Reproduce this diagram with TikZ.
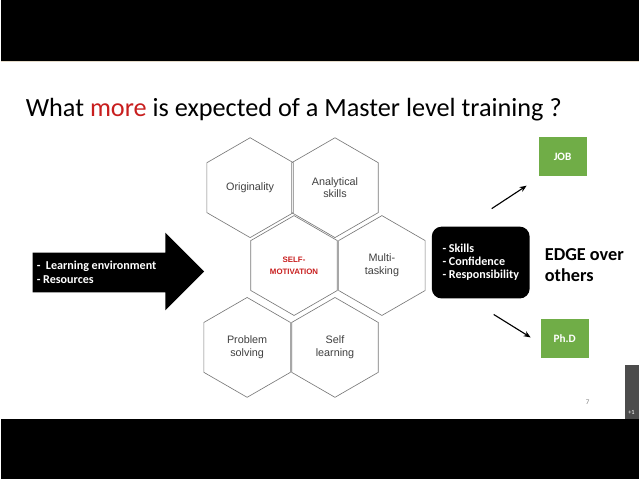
\documentclass[tikz,border=0pt]{standalone}
\usepackage{fontspec}
\setmainfont{Carlito}
\newfontfamily\arialfont{Liberation Sans}
\usetikzlibrary{shapes.geometric,arrows.meta}
\definecolor{boxgreen}{RGB}{112,173,71}
\definecolor{slideline}{RGB}{228,218,200}
\definecolor{hexline}{RGB}{120,120,120}
\definecolor{titlered}{RGB}{200,30,30}

\begin{document}
\begin{tikzpicture}[x=0.025cm,y=-0.025cm,
    hexcell/.style={regular polygon, regular polygon sides=6, shape border rotate=30,
        draw=hexline, line width=0.45pt, minimum size=2.5cm, inner sep=0pt, align=center,
        text=black!75, font=\arialfont\fontsize{7.7}{9.2}\selectfont},
    greenbox/.style={fill=boxgreen, minimum width=1.2cm, minimum height=0.97cm, inner sep=0pt,
        text=white, font=\bfseries\fontsize{8}{9}\selectfont},
    outarrow/.style={-{Stealth[length=5pt,width=4pt]}, line width=0.8pt}]
    % 背景
    \fill[black] (0,0) rectangle (640,480);
    \fill[white] (0,61) rectangle (640,420);
    \draw[slideline, line width=0.8pt] (0,61.5) -- (640,61.5);
    \useasboundingbox (0,0) rectangle (640,480);
    % 标题
    \node[anchor=base west, inner sep=0pt, font=\fontsize{18.7}{22}\selectfont] (title) at (25,117)
        {What \textcolor{titlered}{more} is expected of a Master level training ?};
    % 蜂巢
    \foreach \n/\x/\y/\t in {orig/250/188/Originality, anal/335/188/{Analytical\\skills},
        multi/382/266/{Multi-\\tasking}, prob/247/348/{Problem\\solving}, selfl/335/348/{Self\\learning}}
        \node[hexcell] (\n) at (\x,\y) {\t};
    \node[hexcell, text=titlered, font=\arialfont\bfseries\fontsize{5.6}{8.5}\selectfont] (selfm) at (294,266)
        {SELF-\\MOTIVATION};
    % 左侧箭头
    \fill[black] (32,253) -- (165,253) -- (165,233) -- (204,272) -- (165,311) -- (165,293) -- (32,293) -- cycle;
    \node[anchor=west, align=left, text=white, inner sep=0pt, font=\bfseries\fontsize{8.6}{10}\selectfont] (env) at (36,273)
        {-\ \ Learning environment\\- Resources};
    % 黑框
    \node[fill=black, rounded corners=0.25cm, minimum width=2.45cm, minimum height=1.8cm, align=left,
        text=white, font=\bfseries\fontsize{8.6}{9.3}\selectfont] (gain) at (481,263)
        {- Skills\\- Confidence\\- Responsibility};
    \node[anchor=west, align=left, inner sep=0pt, font=\bfseries\fontsize{13}{15}\selectfont] (edge) at (545,266)
        {EDGE over\\others};
    % 结果
    \node[greenbox] (job) at (563,157) {JOB};
    \node[greenbox] (phd) at (565,339) {Ph.D};
    \coordinate (jobtail) at (492,209);
    \coordinate (jobhead) at (527,186);
    \coordinate (phdtail) at (494,315);
    \coordinate (phdhead) at (531,338);
    \draw[outarrow] (jobtail) -- (jobhead);
    \draw[outarrow] (phdtail) -- (phdhead);
    % 页码
    \node[text=black!50, font=\fontsize{5}{6}\selectfont] (page) at (588,403) {7};
    \fill[black!70] (626,366) rectangle (640,420);
    \node[text=white, font=\fontsize{4.5}{5}\selectfont] (plus) at (632,413) {+1};
\end{tikzpicture}
\end{document}
